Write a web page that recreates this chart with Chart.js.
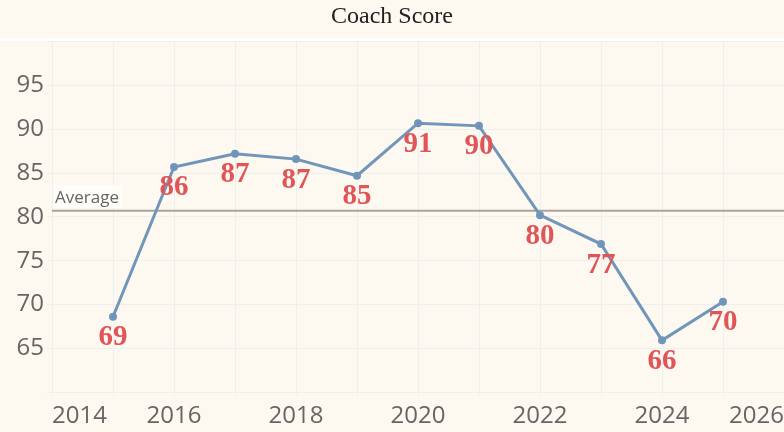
<!DOCTYPE html>
<html>
<head>
<meta charset="utf-8">
<title>Coach Score</title>
<script src="https://cdn.jsdelivr.net/npm/chart.js@4.4.1/dist/chart.umd.min.js"></script>
<style>
  html, body { margin: 0; padding: 0; background: #fdf8f0; }
  #wrap { width: 784px; height: 432px; position: relative; }
</style>
</head>
<body>
<div id="wrap"><canvas id="scoreChart"></canvas></div>
<script>
const years = [2015, 2016, 2017, 2018, 2019, 2020, 2021, 2022, 2023, 2024, 2025];
const scores = [68.6, 85.7, 87.2, 86.6, 84.7, 90.7, 90.4, 80.2, 76.9, 65.9, 70.3];
const averageScore = 80.7;
const xTickYears = [2014, 2016, 2018, 2020, 2022, 2024, 2026];
const yTickValues = [65, 70, 75, 80, 85, 90, 95];

const gridColor = "#eef0f0";

// white rule under the title, average line + its label
const decorPlugin = {
  id: "decor",
  beforeDraw(chart) {
    const ctx = chart.ctx;
    ctx.save();
    ctx.fillStyle = "#ffffff";
    ctx.fillRect(0, 38, chart.width, 3);
    ctx.restore();
  },
  beforeDatasetsDraw(chart) {
    const ctx = chart.ctx;
    const area = chart.chartArea;
    const y = chart.scales.y.getPixelForValue(averageScore);
    ctx.save();
    ctx.strokeStyle = "#a9a59d";
    ctx.lineWidth = 2;
    ctx.beginPath();
    ctx.moveTo(area.left, y);
    ctx.lineTo(area.right, y);
    ctx.stroke();
    ctx.font = "17px 'Open Sans'";
    const w = ctx.measureText("Average").width;
    ctx.fillStyle = "rgba(255,253,248,0.9)";
    ctx.fillRect(area.left + 1, y - 26, w + 6, 23);
    ctx.fillStyle = "#666666";
    ctx.textBaseline = "middle";
    ctx.fillText("Average", area.left + 3, y - 13);
    ctx.restore();
  }
};

// rounded value under each point
const valueLabelPlugin = {
  id: "valueLabels",
  afterDatasetsDraw(chart) {
    const ctx = chart.ctx;
    const meta = chart.getDatasetMeta(0);
    ctx.save();
    ctx.font = "bold 29px 'Liberation Serif'";
    ctx.fillStyle = "#e05557";
    ctx.textAlign = "center";
    ctx.textBaseline = "middle";
    meta.data.forEach((pt, i) => {
      ctx.fillText(String(Math.round(scores[i])), pt.x, pt.y + 21);
    });
    ctx.restore();
  }
};

new Chart(document.getElementById("scoreChart"), {
  type: "line",
  data: {
    datasets: [{
      label: "Coach Score",
      data: years.map((yr, i) => ({ x: yr, y: scores[i] })),
      borderColor: "#7196ba",
      backgroundColor: "#6a8fb5",
      borderWidth: 3,
      pointRadius: 2.5,
      pointHoverRadius: 2.5,
      tension: 0
    }]
  },
  options: {
    responsive: true,
    maintainAspectRatio: false,
    animation: false,
    layout: { padding: 0, autoPadding: false },
    plugins: {
      legend: { display: false },
      tooltip: { enabled: false },
      title: {
        display: true,
        text: "Coach Score",
        color: "#222222",
        font: { family: "'Liberation Serif'", size: 24, weight: "normal" },
        padding: { top: 2, bottom: 11 }
      }
    },
    scales: {
      x: {
        type: "linear",
        min: 2014,
        max: 2026,
        afterFit(scale) {
          scale.height = 40;
          scale.paddingLeft = 0;
          scale.paddingRight = 0;
        },
        afterBuildTicks(scale) {
          scale.ticks = [];
          for (let v = scale.min; v <= scale.max; v++) scale.ticks.push({ value: v });
        },
        border: { display: false },
        grid: { color: gridColor, tickLength: 4 },
        ticks: {
          autoSkip: false,
          maxRotation: 0,
          align: "inner",
          padding: 6,
          color: "#666666",
          font: { family: "'Open Sans'", size: 24 },
          callback: v => xTickYears.includes(v) ? String(v) : ""
        }
      },
      y: {
        min: 60,
        max: 100,
        afterFit(scale) { scale.width = 52; },
        border: { display: false },
        grid: { color: gridColor, tickLength: 5 },
        ticks: {
          stepSize: 5,
          padding: 3,
          color: "#666666",
          font: { family: "'Open Sans'", size: 24 },
          callback: v => yTickValues.includes(v) ? String(v) : ""
        }
      }
    }
  },
  plugins: [decorPlugin, valueLabelPlugin]
});
</script>
</body>
</html>
